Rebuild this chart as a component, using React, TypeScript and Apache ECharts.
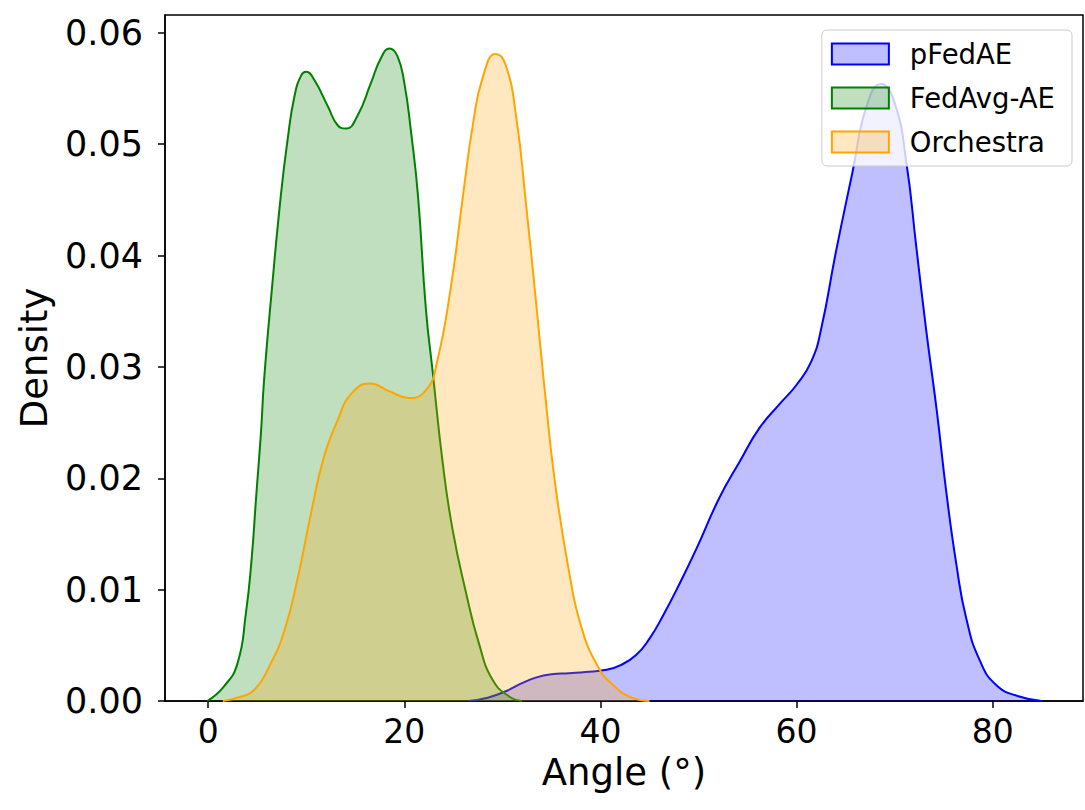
import React, { useEffect, useRef } from "react";
import * as echarts from "echarts";

const seriesNames = ["pFedAE", "FedAvg-AE", "Orchestra"];

const pfedaeX = [26.5, 28.5, 30.4, 32, 33.4, 35, 36.8, 38.5, 40.6, 42, 43.6, 45, 46.4, 48.1, 49.8, 52.1, 54.2, 56.2, 58.3, 60, 61.5, 62.5, 64, 65.7, 67.1, 68.6, 70, 71.2, 72.2, 73.2, 74.3, 75.3, 76.3, 77.3, 78.7, 80.4, 82.7, 85];
const pfedaeY = [0, 0.0003, 0.0009, 0.0016, 0.0021, 0.0024, 0.0025, 0.0026, 0.0028, 0.0032, 0.0041, 0.0056, 0.0077, 0.0106, 0.0137, 0.0182, 0.0215, 0.0245, 0.0267, 0.0284, 0.0305, 0.0334, 0.0403, 0.0475, 0.0533, 0.0554, 0.0537, 0.0483, 0.0408, 0.0334, 0.026, 0.0185, 0.0122, 0.0074, 0.0036, 0.0014, 0.0004, 0];

const fedavgX = [-0.1, 1.6, 3.0, 3.85, 4.4, 4.9, 5.4, 5.7, 6.5, 7.4, 8.1, 8.8, 9.5, 10.0, 10.8, 12.2, 13.2, 14.05, 15.2, 16.6, 17.6, 18.5, 19.3, 20.0, 20.7, 21.4, 22.2, 22.9, 23.9, 24.9, 26.3, 27.6, 29.0, 30.7, 32];
const fedavgY = [0, 0.0013, 0.0034, 0.0079, 0.0124, 0.0184, 0.0243, 0.0288, 0.037, 0.0453, 0.0504, 0.0543, 0.0562, 0.0565, 0.0558, 0.0534, 0.0517, 0.0514, 0.0525, 0.0555, 0.0577, 0.0586, 0.0579, 0.0555, 0.051, 0.0453, 0.0352, 0.0295, 0.0215, 0.0155, 0.0097, 0.0052, 0.0019, 0.0004, 0];

const orchestraX = [1.5, 3.4, 4.7, 6.4, 7.8, 9.1, 10.5, 11.8, 13.2, 14.6, 16.5, 18.5, 20.5, 22.3, 23.3, 24.7, 26.0, 27.0, 28.0, 29.3, 30.3, 31.4, 32.4, 33.4, 34.4, 35.4, 36.8, 38.1, 39.8, 41.2, 43.2, 45];
const orchestraY = [0, 0.0004, 0.001, 0.0034, 0.0064, 0.0109, 0.0169, 0.0219, 0.0252, 0.0276, 0.0285, 0.0278, 0.0272, 0.028, 0.0303, 0.0369, 0.0455, 0.0518, 0.056, 0.0581, 0.0572, 0.0525, 0.0447, 0.0361, 0.0272, 0.0194, 0.0116, 0.0065, 0.003, 0.0015, 0.0003, 0];

const xTicks = [0, 20, 40, 60, 80];
const yTicks = [0, 0.01, 0.02, 0.03, 0.04, 0.05, 0.06];

const lineColors = ["#0000ff", "#008000", "#ffa500"];
const fillColors = ["rgba(0,0,255,0.25)", "rgba(0,128,0,0.25)", "rgba(255,165,0,0.25)"];

const FONT = "DejaVu Sans";

function zip(xs: number[], ys: number[]) {
  return xs.map((x, i) => [x, ys[i]]);
}

export default function App() {
  const ref = useRef<HTMLDivElement>(null);
  useEffect(() => {
    if (!ref.current) return;
    const chart = echarts.init(ref.current, null, { renderer: "svg" });
    const datasets = [zip(pfedaeX, pfedaeY), zip(fedavgX, fedavgY), zip(orchestraX, orchestraY)];
    chart.setOption({
      animation: false,
      backgroundColor: "#fff",
      grid: {
        left: 165,
        right: 2,
        top: 15,
        bottom: 109,
        show: true,
        borderColor: "#000",
        borderWidth: 1.5,
        backgroundColor: "transparent",
      },
      legend: {
        orient: "vertical",
        right: 13,
        top: 30,
        padding: [10, 17, 10, 9],
        itemWidth: 57,
        itemHeight: 21,
        itemGap: 16,
        backgroundColor: "rgba(255,255,255,0.8)",
        borderColor: "#cccccc",
        borderWidth: 1,
        borderRadius: 5,
        textStyle: { fontFamily: FONT, fontSize: 27.5, color: "#000", padding: [0, 0, 0, 16] },
        data: seriesNames.map((n, i) => ({
          name: n,
          icon: "rect",
          itemStyle: { color: fillColors[i], borderColor: lineColors[i], borderWidth: 2, opacity: 1 },
        })),
      },
      xAxis: {
        type: "value",
        min: -4.4,
        max: 89.2,
        name: "Angle (°)",
        nameLocation: "middle",
        nameGap: 53,
        nameTextStyle: { fontFamily: FONT, fontSize: 37, color: "#000" },
        axisLine: { show: true, onZero: false, lineStyle: { color: "#000", width: 1.5 } },
        axisTick: { show: true, length: 7, customValues: xTicks, lineStyle: { color: "#000", width: 1.5 } },
        axisLabel: {
          customValues: xTicks,
          margin: 14,
          fontFamily: FONT,
          fontSize: 33,
          color: "#000",
          formatter: (v: number) => String(Math.round(v)),
        },
        splitLine: { show: false },
      },
      yAxis: {
        type: "value",
        min: 0,
        max: 0.0616,
        name: "Density",
        nameLocation: "middle",
        nameGap: 112,
        nameTextStyle: { fontFamily: FONT, fontSize: 37, color: "#000" },
        axisLine: { show: true, onZero: false, lineStyle: { color: "#000", width: 1.5 } },
        axisTick: { show: true, length: 7, customValues: yTicks, lineStyle: { color: "#000", width: 1.5 } },
        axisLabel: {
          customValues: yTicks,
          margin: 22,
          fontFamily: FONT,
          fontSize: 35,
          color: "#000",
          formatter: (v: number) => v.toFixed(2),
        },
        splitLine: { show: false },
      },
      series: seriesNames.map((n, i) => ({
        name: n,
        type: "line",
        data: datasets[i],
        smooth: 0.5,
        symbol: "none",
        showSymbol: false,
        itemStyle: { color: fillColors[i], borderColor: lineColors[i] },
        lineStyle: { color: lineColors[i], width: 2 },
        areaStyle: { color: fillColors[i], opacity: 1, origin: 0 },
        z: 2 + i,
      })),
    });
    return () => chart.dispose();
  }, []);
  return <div ref={ref} style={{ width: 1085, height: 810, position: "absolute", left: 0, top: 0 }} />;
}
